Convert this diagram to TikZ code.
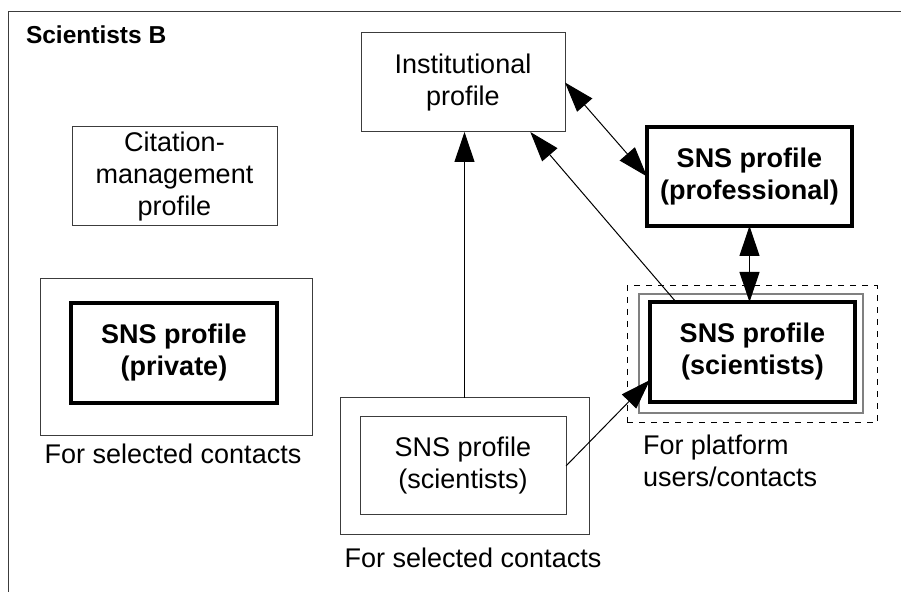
\documentclass[tikz,border=0pt]{standalone}
\usepackage{fontspec}
\setmainfont{Liberation Sans}
\usetikzlibrary{arrows.meta,positioning,calc}
\definecolor{lineg}{RGB}{60,60,60}
\begin{document}
\begin{tikzpicture}[x=0.5pt,y=-0.5pt,
        every node/.style={font=\fontsize{13.5}{16}\selectfont,inner sep=0pt,outer sep=0pt},
        box/.style={draw=lineg,line width=0.5pt,align=center,minimum width=102.5pt,minimum height=49.5pt},
        thickbox/.style={box,draw=black,line width=1.8pt,font=\fontsize{13.5}{16}\selectfont\bfseries},
        wrapbox/.style={draw=lineg,line width=0.5pt},
        lbl/.style={align=left},
        arr/.style={draw=black,line width=0.5pt,-{Triangle[length=15pt,width=10pt]}},
        darr/.style={draw=black,line width=0.5pt,{Triangle[length=15pt,width=10pt]}-{Triangle[length=15pt,width=10pt]}}]
      \useasboundingbox (0,0) rectangle (901,592);
      \draw[lineg,line width=0.5pt] (8,592) -- (8,12) -- (901,12);
      \node[anchor=west,font=\fontsize{12.25}{14}\selectfont\bfseries] (title) at (26,35) {Scientists B};
      % left column
      \node[box] (cite) at (174.5,176.5) {Citation-\\management\\profile};
      \node[wrapbox,minimum width=136pt,minimum height=78.5pt] (privout) at (176,357.5) {};
      \node[thickbox,minimum width=103pt,minimum height=50pt] (priv) at (174,353) {SNS profile\\(private)};
      \node (privlbl) at (173,454) {For selected contacts};
      % middle column
      \node[box,minimum width=102pt] (inst) at (463,82.5) {Institutional\\profile};
      \node[wrapbox,minimum width=124.5pt,minimum height=68.5pt] (botout) at (464.5,466.5) {};
      \node[box,minimum width=103pt,minimum height=49pt] (bot) at (463,466) {SNS profile\\(scientists)};
      \node (botlbl) at (473,558) {For selected contacts};
      % right column
      \node[thickbox] (prof) at (749.5,176.5) {SNS profile\\(professional)};
      \node[draw=black,dashed,line width=0.5pt,minimum width=125pt,minimum height=68.5pt] (scidash) at (752,354.5) {};
      \node[draw=gray,line width=0.8pt,minimum width=112pt,minimum height=59.5pt] (scigray) at (751,353.5) {};
      \node[thickbox,minimum height=50pt] (sci) at (752.5,352) {SNS profile\\(scientists)};
      \node[lbl,anchor=west] (platlbl) at (643,461) {For platform\\users/contacts};
      % connectors
      \draw[arr] (botout.north) -- (botout.north |- inst.south);
      \draw[arr] ($(sci.north west)!0.127!(sci.north east)$) -- ($(inst.south west)!0.83!(inst.south east)$);
      \draw[darr] (inst.east) -- (prof.west);
      \draw[darr] (prof.south) -- (prof.south |- sci.north);
      \draw[arr] (bot.east) -- ($(sci.north west)!0.78!(sci.south west)$);
    \end{tikzpicture}
\end{document}
